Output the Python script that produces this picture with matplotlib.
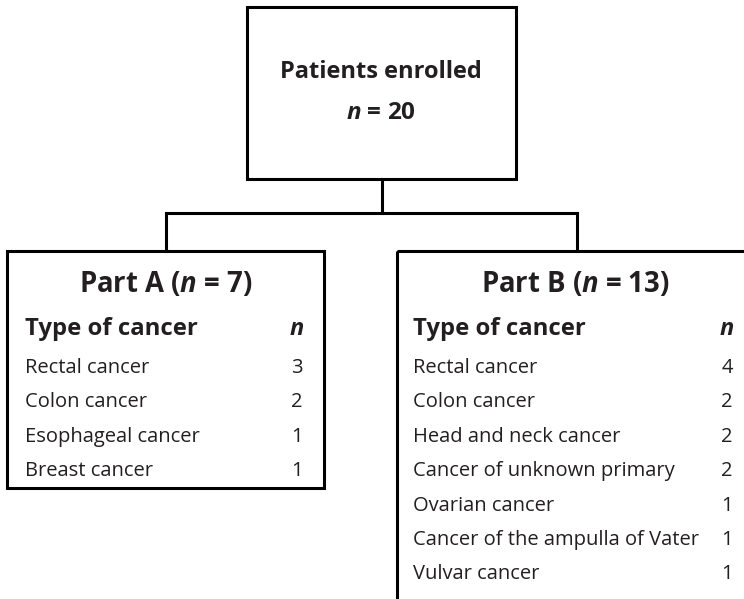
import matplotlib
matplotlib.use("Agg")
import matplotlib.pyplot as plt
from matplotlib.patches import Rectangle

plt.rcParams["font.family"] = "Open Sans"
plt.rcParams["mathtext.fontset"] = "custom"
plt.rcParams["mathtext.it"] = "Open Sans:italic:bold"
plt.rcParams["mathtext.rm"] = "Open Sans:bold"

total_n = 20
part_a_n = 7
part_b_n = 13
part_a_types = ["Rectal cancer", "Colon cancer", "Esophageal cancer", "Breast cancer"]
part_a_counts = [3, 2, 1, 1]
part_b_types = ["Rectal cancer", "Colon cancer", "Head and neck cancer",
                "Cancer of unknown primary", "Ovarian cancer",
                "Cancer of the ampulla of Vater", "Vulvar cancer"]
part_b_counts = [4, 2, 2, 2, 1, 1, 1]

fig = plt.figure(figsize=(7.44, 5.99), dpi=100)
ax = fig.add_axes([0, 0, 1, 1])
ax.set_xlim(0, 744)
ax.set_ylim(599, 0)
ax.axis("off")

lw = 2.2
txt = "#231f20"
# boxes
ax.add_patch(Rectangle((247, 7), 269, 172, fill=False, lw=lw, ec="black"))
ax.add_patch(Rectangle((7, 251), 317, 237, fill=False, lw=lw, ec="black"))
ax.add_patch(Rectangle((397, 251), 360, 400, fill=False, lw=lw, ec="black"))

# connectors
ax.plot([382, 382], [179, 213], color="black", lw=lw)
ax.plot([166, 577], [213, 213], color="black", lw=lw)
ax.plot([166, 166], [213, 251], color="black", lw=lw)
ax.plot([577, 577], [213, 251], color="black", lw=lw)

# top box
ax.text(381, 72, "Patients enrolled", ha="center", va="center",
        fontsize=17, fontweight="bold", color=txt)
ax.text(381, 113, "$n$ = %d" % total_n, ha="center", va="center",
        fontsize=17.5, fontweight="bold", color=txt)

def draw_part(title, types, counts, x_left, x_num, x_center):
    ax.text(x_center, 284, title, ha="center", va="center",
            fontsize=19.8, fontweight="bold", color=txt)
    ax.text(x_left, 329, "Type of cancer", ha="left", va="center",
            fontsize=17.2, fontweight="bold", color=txt)
    ax.text(x_num, 329, "$n$", ha="center", va="center",
            fontsize=17, color=txt)
    for i, (t, c) in enumerate(zip(types, counts)):
        y = 368 + i * 34.4
        ax.text(x_left, y, t, ha="left", va="center", fontsize=14.5, color=txt)
        ax.text(x_num, y, str(c), ha="center", va="center", fontsize=14.5, color=txt)

draw_part("Part A ($n$ = %d)" % part_a_n, part_a_types, part_a_counts, 25, 297, 166)
draw_part("Part B ($n$ = %d)" % part_b_n, part_b_types, part_b_counts, 413, 727, 575)

fig.savefig("out.png", dpi=100)
